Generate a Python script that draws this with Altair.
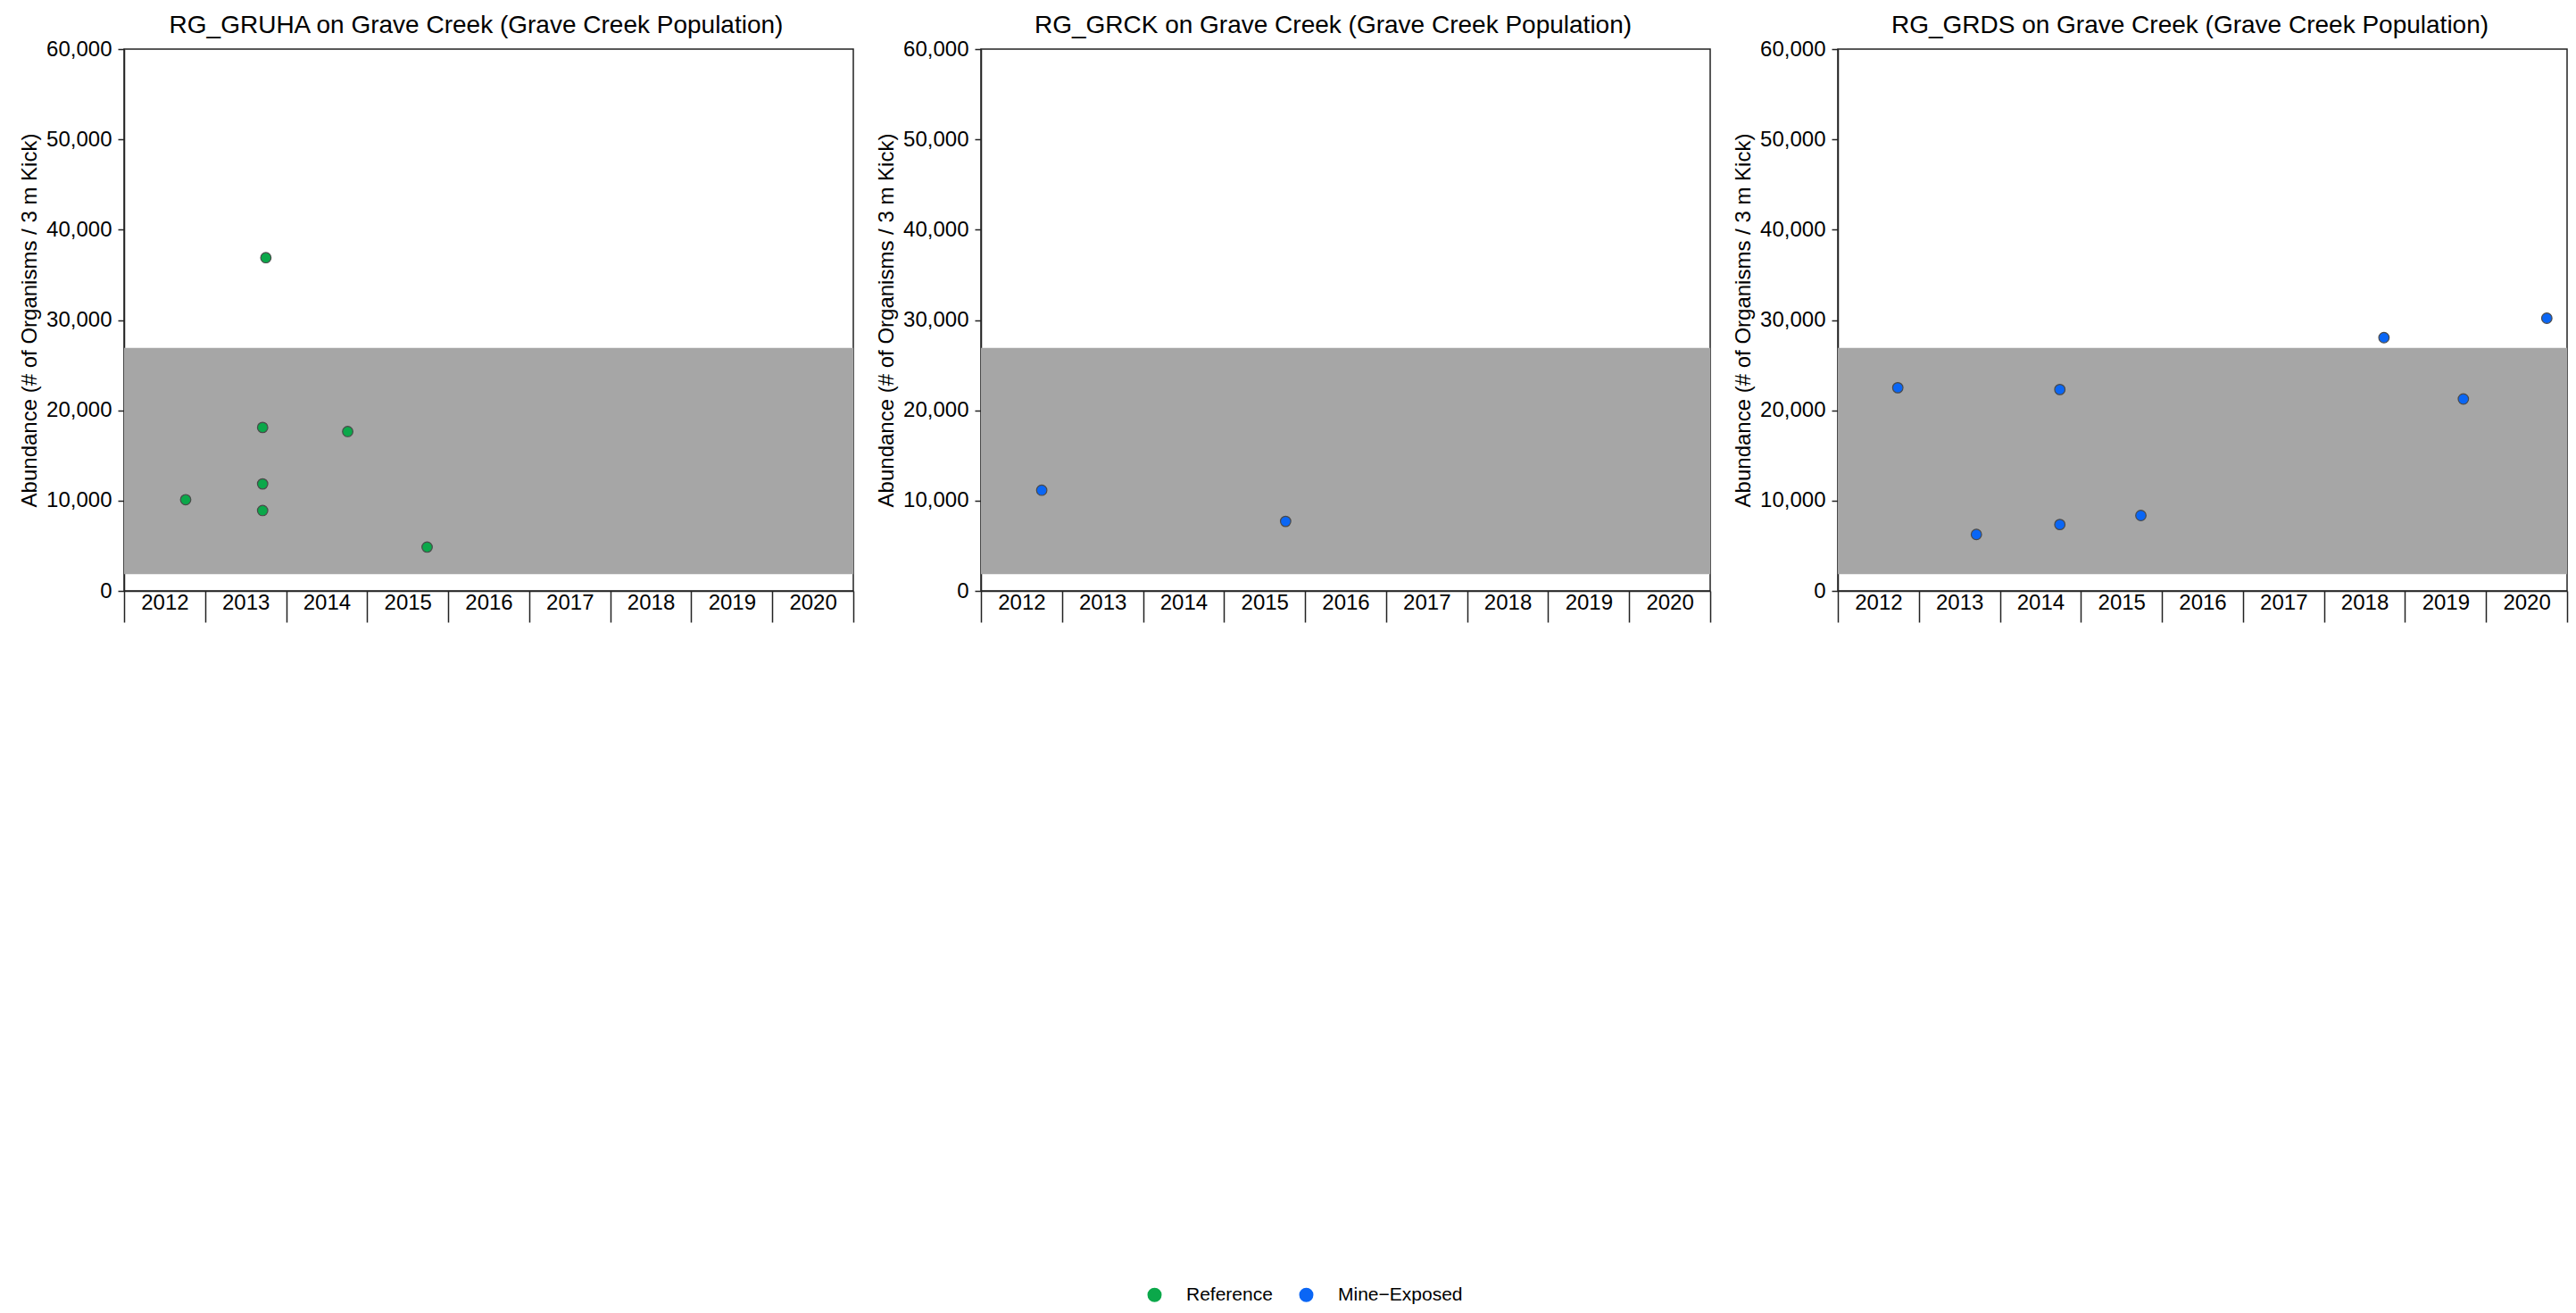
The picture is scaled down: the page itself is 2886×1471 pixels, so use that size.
import altair as alt
import pandas as pd

# ---------------- data ----------------
site_names = ["RG_GRUHA", "RG_GRCK", "RG_GRDS"]
site_kinds = ["Reference", "Mine\u2212Exposed", "Mine\u2212Exposed"]

# sample time as decimal year (sampling in late September / early October)
gruha_time = [2012.76, 2013.75, 2013.71, 2013.71, 2013.71, 2014.76, 2015.74]
gruha_abund = [10100, 36900, 18100, 11850, 8900, 17650, 4850]

grck_time = [2012.75, 2015.76]
grck_abund = [11150, 7700]

grds_time = [2012.74, 2013.71, 2014.74, 2014.74, 2015.74, 2018.74, 2019.72, 2020.75]
grds_abund = [22500, 6250, 22300, 7350, 8350, 28050, 21250, 30200]

site_types = ["Reference", "Mine\u2212Exposed"]
type_colors = ["#0BA84A", "#0A66F5"]

band_low = 1850
band_high = 26900

year_edges = list(range(2012, 2022))
y_ticks = [0, 10000, 20000, 30000, 40000, 50000, 60000]

FONT = "Liberation Sans"
W, H = 817, 607
HALF_BAND = W / (len(year_edges) - 1) / 2


def panel(name, times, abund, kind):
    df = pd.DataFrame({"Time": times, "Abundance": abund, "Type": [kind] * len(times)})
    band_df = pd.DataFrame({"x0": [year_edges[0]], "x1": [year_edges[-1]],
                            "lo": [band_low], "hi": [band_high]})
    x_scale = alt.Scale(domain=[year_edges[0], year_edges[-1]], nice=False, zero=False)
    y_scale = alt.Scale(domain=[y_ticks[0], y_ticks[-1]], nice=False)
    x_axis = alt.Axis(
        values=year_edges, title=None, grid=False,
        tickSize=35, tickWidth=1.5, tickColor="#222222",
        domainColor="#222222", domainWidth=1.5,
        labelExpr=f"datum.value == {year_edges[-1]} ? '' : format(datum.value, 'd')",
        labelFontSize=24, labelColor="black", labelFont=FONT,
        labelOffset={"condition": {"test": f"datum.value == {year_edges[-1]}", "value": 0},
                     "value": HALF_BAND},
        labelPadding=-34,
        labelFlush=False, labelOverlap=False, labelBound=False,
    )
    y_axis = alt.Axis(
        values=y_ticks, grid=False,
        labelExpr="format(datum.value, ',d')",
        tickSize=7, tickWidth=1.5, tickColor="#222222",
        domainColor="#222222", domainWidth=1.5,
        labelFontSize=24, labelColor="black", labelFont=FONT, labelPadding=7,
        labelFlush=False, labelOverlap=False,
        title="Abundance (# of Organisms / 3 m Kick)", titleFontSize=24,
        titleFontWeight="normal", titleFont=FONT, titleColor="black", titlePadding=6,
    )
    band = alt.Chart(band_df).mark_rect(color="#A6A6A6").encode(
        x=alt.X("x0:Q", scale=x_scale, axis=x_axis),
        x2="x1:Q",
        y=alt.Y("lo:Q", scale=y_scale, axis=y_axis),
        y2="hi:Q",
    )
    pts = alt.Chart(df).mark_circle(size=135, opacity=1, stroke="#4A4A4A", strokeWidth=1.2).encode(
        x=alt.X("Time:Q", scale=x_scale, axis=x_axis),
        y=alt.Y("Abundance:Q", scale=y_scale, axis=y_axis),
        color=alt.Color(
            "Type:N",
            scale=alt.Scale(domain=site_types, range=type_colors),
            legend=alt.Legend(
                orient="none", legendX=1144, legendY=1385, direction="horizontal",
                title=None, symbolType="circle", symbolSize=254, symbolStrokeWidth=0,
                symbolOpacity=1, labelFontSize=21, labelFont=FONT, labelColor="black",
                labelOffset=25, columnPadding=27,
            ),
        ),
    )
    return alt.layer(band, pts).properties(
        width=W, height=H,
        title=alt.TitleParams(
            f"{name} on Grave Creek (Grave Creek Population)",
            fontSize=28, font=FONT, fontWeight="normal", color="black",
            anchor="middle", baseline="bottom", offset=-28, dx=-14,
        ),
    )


panels = [
    panel(site_names[0], gruha_time, gruha_abund, site_kinds[0]),
    panel(site_names[1], grck_time, grck_abund, site_kinds[1]),
    panel(site_names[2], grds_time, grds_abund, site_kinds[2]),
]

chart = alt.hconcat(*panels, spacing=22).properties(
    padding={"left": 12, "top": 6, "right": 0, "bottom": 0}
).configure(
    font=FONT,
).configure_view(stroke="#222222", strokeWidth=1.5)

chart.save("out.html", embed_options={"renderer": "svg", "actions": False})
